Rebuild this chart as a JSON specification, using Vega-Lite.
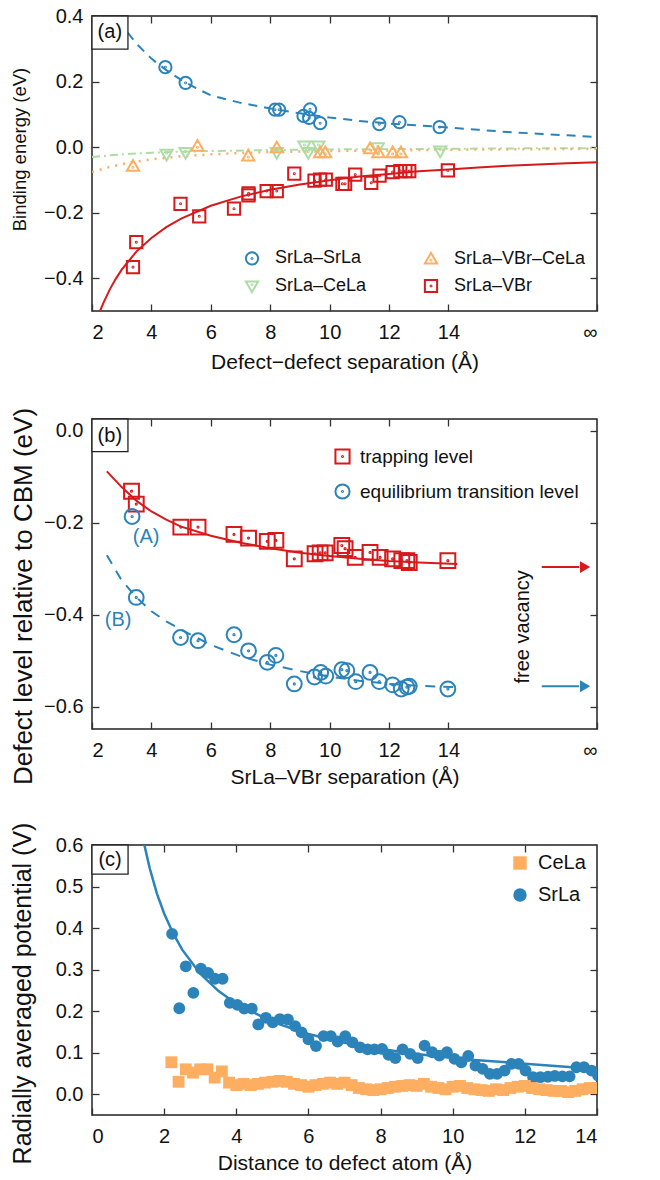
{
 "$schema": "https://vega.github.io/schema/vega-lite/v6.json",
 "padding": {"left": 9, "top": 5, "right": 5, "bottom": 5},
 "background": "white",
 "spacing": 33,
 "resolve": {"scale": {"color": "independent", "shape": "independent"}, "legend": {"color": "independent", "shape": "independent"}},
 "config": {
  "font": "Liberation Sans",
  "view": {"stroke": "#222", "strokeWidth": 1.5},
  "axis": {"domain": false, "grid": false, "tickSize": -7, "tickColor": "#333", "tickWidth": 1.3, "labelFontSize": 20, "labelColor": "#111", "titleFontSize": 20, "titleFontWeight": "normal", "titleColor": "#111", "labelPadding": 10, "titlePadding": 10},
  "axisLeft": {"labelPadding": 16},
  "axisBottom": {"labelPadding": 18, "titlePadding": 6},
  "legend": {"labelColor": "#111", "labelLimit": 400},
  "text": {"font": "Liberation Sans"}
 },
 "datasets": {
  "ptsA": [
   {"s": "SrLa–SrLa", "x": 4.47, "y": 0.244}, {"s": "SrLa–SrLa", "x": 5.15, "y": 0.196}, {"s": "SrLa–SrLa", "x": 8.16, "y": 0.114}, {"s": "SrLa–SrLa", "x": 8.3, "y": 0.114}, {"s": "SrLa–SrLa", "x": 9.12, "y": 0.095}, {"s": "SrLa–SrLa", "x": 9.34, "y": 0.115}, {"s": "SrLa–SrLa", "x": 9.31, "y": 0.089}, {"s": "SrLa–SrLa", "x": 9.68, "y": 0.073}, {"s": "SrLa–SrLa", "x": 11.67, "y": 0.07}, {"s": "SrLa–SrLa", "x": 12.35, "y": 0.076}, {"s": "SrLa–SrLa", "x": 13.7, "y": 0.061},
   {"s": "SrLa–CeLa", "x": 4.51, "y": -0.022}, {"s": "SrLa–CeLa", "x": 5.15, "y": -0.017}, {"s": "SrLa–CeLa", "x": 8.22, "y": -0.017}, {"s": "SrLa–CeLa", "x": 9.15, "y": 0.003}, {"s": "SrLa–CeLa", "x": 9.28, "y": -0.017}, {"s": "SrLa–CeLa", "x": 9.62, "y": 0.003}, {"s": "SrLa–CeLa", "x": 11.62, "y": -0.002}, {"s": "SrLa–CeLa", "x": 13.72, "y": -0.012},
   {"s": "SrLa–VBr–CeLa", "x": 3.38, "y": -0.058}, {"s": "SrLa–VBr–CeLa", "x": 5.55, "y": 0.003}, {"s": "SrLa–VBr–CeLa", "x": 7.26, "y": -0.027}, {"s": "SrLa–VBr–CeLa", "x": 8.22, "y": -0.002}, {"s": "SrLa–VBr–CeLa", "x": 9.68, "y": -0.017}, {"s": "SrLa–VBr–CeLa", "x": 9.85, "y": -0.017}, {"s": "SrLa–VBr–CeLa", "x": 11.36, "y": -0.005}, {"s": "SrLa–VBr–CeLa", "x": 11.64, "y": -0.017}, {"s": "SrLa–VBr–CeLa", "x": 12.12, "y": -0.017}, {"s": "SrLa–VBr–CeLa", "x": 12.4, "y": -0.017},
   {"s": "SrLa–VBr", "x": 3.38, "y": -0.366}, {"s": "SrLa–VBr", "x": 3.49, "y": -0.29}, {"s": "SrLa–VBr", "x": 4.98, "y": -0.173}, {"s": "SrLa–VBr", "x": 5.61, "y": -0.211}, {"s": "SrLa–VBr", "x": 6.78, "y": -0.188}, {"s": "SrLa–VBr", "x": 7.27, "y": -0.141}, {"s": "SrLa–VBr", "x": 7.27, "y": -0.147}, {"s": "SrLa–VBr", "x": 7.88, "y": -0.134}, {"s": "SrLa–VBr", "x": 8.22, "y": -0.134}, {"s": "SrLa–VBr", "x": 8.81, "y": -0.081}, {"s": "SrLa–VBr", "x": 9.49, "y": -0.102}, {"s": "SrLa–VBr", "x": 9.68, "y": -0.099}, {"s": "SrLa–VBr", "x": 9.87, "y": -0.099}, {"s": "SrLa–VBr", "x": 10.43, "y": -0.112}, {"s": "SrLa–VBr", "x": 10.52, "y": -0.112}, {"s": "SrLa–VBr", "x": 10.86, "y": -0.084}, {"s": "SrLa–VBr", "x": 11.4, "y": -0.109}, {"s": "SrLa–VBr", "x": 11.68, "y": -0.087}, {"s": "SrLa–VBr", "x": 12.12, "y": -0.076}, {"s": "SrLa–VBr", "x": 12.38, "y": -0.073}, {"s": "SrLa–VBr", "x": 12.55, "y": -0.073}, {"s": "SrLa–VBr", "x": 12.68, "y": -0.073}, {"s": "SrLa–VBr", "x": 13.98, "y": -0.071}
  ],
  "fitA": [
   {"s": "SrSr", "x": 2.9, "y": 0.39}, {"s": "SrSr", "x": 3.2, "y": 0.35}, {"s": "SrSr", "x": 3.5, "y": 0.315}, {"s": "SrSr", "x": 4, "y": 0.27}, {"s": "SrSr", "x": 4.5, "y": 0.235}, {"s": "SrSr", "x": 5, "y": 0.205}, {"s": "SrSr", "x": 5.5, "y": 0.18}, {"s": "SrSr", "x": 6, "y": 0.158}, {"s": "SrSr", "x": 7, "y": 0.135}, {"s": "SrSr", "x": 8, "y": 0.118}, {"s": "SrSr", "x": 9, "y": 0.103}, {"s": "SrSr", "x": 10, "y": 0.09}, {"s": "SrSr", "x": 11, "y": 0.08}, {"s": "SrSr", "x": 12, "y": 0.072}, {"s": "SrSr", "x": 13, "y": 0.066}, {"s": "SrSr", "x": 14, "y": 0.06}, {"s": "SrSr", "x": 15, "y": 0.053}, {"s": "SrSr", "x": 16, "y": 0.046}, {"s": "SrSr", "x": 17, "y": 0.041}, {"s": "SrSr", "x": 18, "y": 0.036}, {"s": "SrSr", "x": 19, "y": 0.031},
   {"s": "SrCe", "x": 2, "y": -0.03}, {"s": "SrCe", "x": 3, "y": -0.022}, {"s": "SrCe", "x": 4, "y": -0.017}, {"s": "SrCe", "x": 5, "y": -0.014}, {"s": "SrCe", "x": 6, "y": -0.012}, {"s": "SrCe", "x": 8, "y": -0.009}, {"s": "SrCe", "x": 10, "y": -0.007}, {"s": "SrCe", "x": 12, "y": -0.006}, {"s": "SrCe", "x": 14, "y": -0.005}, {"s": "SrCe", "x": 16, "y": -0.004}, {"s": "SrCe", "x": 19, "y": -0.003},
   {"s": "SrVCe", "x": 2, "y": -0.076}, {"s": "SrVCe", "x": 2.5, "y": -0.063}, {"s": "SrVCe", "x": 3, "y": -0.052}, {"s": "SrVCe", "x": 3.5, "y": -0.044}, {"s": "SrVCe", "x": 4, "y": -0.037}, {"s": "SrVCe", "x": 5, "y": -0.028}, {"s": "SrVCe", "x": 6, "y": -0.022}, {"s": "SrVCe", "x": 7, "y": -0.018}, {"s": "SrVCe", "x": 8, "y": -0.015}, {"s": "SrVCe", "x": 10, "y": -0.012}, {"s": "SrVCe", "x": 12, "y": -0.01}, {"s": "SrVCe", "x": 14, "y": -0.008}, {"s": "SrVCe", "x": 16, "y": -0.007}, {"s": "SrVCe", "x": 19, "y": -0.005},
   {"s": "SrV", "x": 2.27, "y": -0.5}, {"s": "SrV", "x": 2.4, "y": -0.472}, {"s": "SrV", "x": 2.6, "y": -0.434}, {"s": "SrV", "x": 2.8, "y": -0.402}, {"s": "SrV", "x": 3, "y": -0.374}, {"s": "SrV", "x": 3.5, "y": -0.318}, {"s": "SrV", "x": 4, "y": -0.277}, {"s": "SrV", "x": 4.5, "y": -0.244}, {"s": "SrV", "x": 5, "y": -0.218}, {"s": "SrV", "x": 6, "y": -0.179}, {"s": "SrV", "x": 7, "y": -0.151}, {"s": "SrV", "x": 8, "y": -0.13}, {"s": "SrV", "x": 9, "y": -0.114}, {"s": "SrV", "x": 10, "y": -0.101}, {"s": "SrV", "x": 11, "y": -0.09}, {"s": "SrV", "x": 12, "y": -0.082}, {"s": "SrV", "x": 13, "y": -0.074}, {"s": "SrV", "x": 14, "y": -0.068}, {"s": "SrV", "x": 15, "y": -0.062}, {"s": "SrV", "x": 16, "y": -0.057}, {"s": "SrV", "x": 17, "y": -0.053}, {"s": "SrV", "x": 18, "y": -0.049}, {"s": "SrV", "x": 19, "y": -0.046}
  ],
  "ptsB": [
   {"s": "trapping level", "x": 3.33, "y": -0.131}, {"s": "trapping level", "x": 3.49, "y": -0.159}, {"s": "trapping level", "x": 4.99, "y": -0.209}, {"s": "trapping level", "x": 5.57, "y": -0.209}, {"s": "trapping level", "x": 6.78, "y": -0.225}, {"s": "trapping level", "x": 7.27, "y": -0.233}, {"s": "trapping level", "x": 7.9, "y": -0.24}, {"s": "trapping level", "x": 8.19, "y": -0.238}, {"s": "trapping level", "x": 8.81, "y": -0.278}, {"s": "trapping level", "x": 9.51, "y": -0.267}, {"s": "trapping level", "x": 9.68, "y": -0.265}, {"s": "trapping level", "x": 9.85, "y": -0.265}, {"s": "trapping level", "x": 10.41, "y": -0.249}, {"s": "trapping level", "x": 10.52, "y": -0.256}, {"s": "trapping level", "x": 10.86, "y": -0.275}, {"s": "trapping level", "x": 11.36, "y": -0.264}, {"s": "trapping level", "x": 11.7, "y": -0.275}, {"s": "trapping level", "x": 12.12, "y": -0.278}, {"s": "trapping level", "x": 12.43, "y": -0.282}, {"s": "trapping level", "x": 12.6, "y": -0.282}, {"s": "trapping level", "x": 12.68, "y": -0.286}, {"s": "trapping level", "x": 13.98, "y": -0.282},
   {"s": "equilibrium transition level", "x": 3.35, "y": -0.186}, {"s": "equilibrium transition level", "x": 3.49, "y": -0.362}, {"s": "equilibrium transition level", "x": 4.98, "y": -0.449}, {"s": "equilibrium transition level", "x": 5.57, "y": -0.456}, {"s": "equilibrium transition level", "x": 6.78, "y": -0.443}, {"s": "equilibrium transition level", "x": 7.27, "y": -0.478}, {"s": "equilibrium transition level", "x": 7.9, "y": -0.503}, {"s": "equilibrium transition level", "x": 8.19, "y": -0.488}, {"s": "equilibrium transition level", "x": 8.81, "y": -0.55}, {"s": "equilibrium transition level", "x": 9.49, "y": -0.535}, {"s": "equilibrium transition level", "x": 9.7, "y": -0.525}, {"s": "equilibrium transition level", "x": 9.87, "y": -0.533}, {"s": "equilibrium transition level", "x": 10.41, "y": -0.519}, {"s": "equilibrium transition level", "x": 10.58, "y": -0.521}, {"s": "equilibrium transition level", "x": 10.88, "y": -0.545}, {"s": "equilibrium transition level", "x": 11.36, "y": -0.525}, {"s": "equilibrium transition level", "x": 11.67, "y": -0.545}, {"s": "equilibrium transition level", "x": 12.12, "y": -0.552}, {"s": "equilibrium transition level", "x": 12.41, "y": -0.561}, {"s": "equilibrium transition level", "x": 12.6, "y": -0.557}, {"s": "equilibrium transition level", "x": 12.68, "y": -0.555}, {"s": "equilibrium transition level", "x": 13.98, "y": -0.561}
  ],
  "fitB": [
   {"s": "trap", "x": 2.5, "y": -0.088}, {"s": "trap", "x": 3, "y": -0.122}, {"s": "trap", "x": 3.5, "y": -0.152}, {"s": "trap", "x": 4, "y": -0.175}, {"s": "trap", "x": 4.5, "y": -0.193}, {"s": "trap", "x": 5, "y": -0.208}, {"s": "trap", "x": 6, "y": -0.228}, {"s": "trap", "x": 7, "y": -0.243}, {"s": "trap", "x": 8, "y": -0.255}, {"s": "trap", "x": 9, "y": -0.265}, {"s": "trap", "x": 10, "y": -0.272}, {"s": "trap", "x": 11, "y": -0.278}, {"s": "trap", "x": 12, "y": -0.283}, {"s": "trap", "x": 13, "y": -0.286}, {"s": "trap", "x": 14.3, "y": -0.289},
   {"s": "eq", "x": 2.5, "y": -0.27}, {"s": "eq", "x": 3, "y": -0.325}, {"s": "eq", "x": 3.5, "y": -0.362}, {"s": "eq", "x": 4, "y": -0.392}, {"s": "eq", "x": 4.5, "y": -0.414}, {"s": "eq", "x": 5, "y": -0.432}, {"s": "eq", "x": 6, "y": -0.465}, {"s": "eq", "x": 7, "y": -0.49}, {"s": "eq", "x": 8, "y": -0.508}, {"s": "eq", "x": 9, "y": -0.522}, {"s": "eq", "x": 10, "y": -0.534}, {"s": "eq", "x": 11, "y": -0.543}, {"s": "eq", "x": 12, "y": -0.55}, {"s": "eq", "x": 13, "y": -0.554}, {"s": "eq", "x": 14.2, "y": -0.557}
  ],
  "ptsC": [
   {"s": "SrLa", "x": 2.22, "y": 0.386}, {"s": "SrLa", "x": 2.42, "y": 0.207}, {"s": "SrLa", "x": 2.6, "y": 0.308}, {"s": "SrLa", "x": 2.81, "y": 0.244}, {"s": "SrLa", "x": 3.02, "y": 0.302}, {"s": "SrLa", "x": 3.22, "y": 0.292}, {"s": "SrLa", "x": 3.41, "y": 0.278}, {"s": "SrLa", "x": 3.62, "y": 0.278}, {"s": "SrLa", "x": 3.82, "y": 0.22}, {"s": "SrLa", "x": 4.03, "y": 0.215}, {"s": "SrLa", "x": 4.22, "y": 0.206}, {"s": "SrLa", "x": 4.43, "y": 0.206}, {"s": "SrLa", "x": 4.61, "y": 0.168}, {"s": "SrLa", "x": 4.82, "y": 0.184}, {"s": "SrLa", "x": 5.01, "y": 0.173}, {"s": "SrLa", "x": 5.21, "y": 0.181}, {"s": "SrLa", "x": 5.43, "y": 0.18}, {"s": "SrLa", "x": 5.63, "y": 0.164}, {"s": "SrLa", "x": 5.81, "y": 0.149}, {"s": "SrLa", "x": 6.0, "y": 0.132}, {"s": "SrLa", "x": 6.21, "y": 0.116}, {"s": "SrLa", "x": 6.42, "y": 0.14}, {"s": "SrLa", "x": 6.62, "y": 0.14}, {"s": "SrLa", "x": 6.81, "y": 0.127}, {"s": "SrLa", "x": 7.02, "y": 0.14}, {"s": "SrLa", "x": 7.22, "y": 0.125}, {"s": "SrLa", "x": 7.43, "y": 0.113}, {"s": "SrLa", "x": 7.64, "y": 0.108}, {"s": "SrLa", "x": 7.83, "y": 0.108}, {"s": "SrLa", "x": 8.04, "y": 0.109}, {"s": "SrLa", "x": 8.22, "y": 0.095}, {"s": "SrLa", "x": 8.41, "y": 0.087}, {"s": "SrLa", "x": 8.61, "y": 0.108}, {"s": "SrLa", "x": 8.82, "y": 0.097}, {"s": "SrLa", "x": 9.03, "y": 0.087}, {"s": "SrLa", "x": 9.22, "y": 0.117}, {"s": "SrLa", "x": 9.43, "y": 0.101}, {"s": "SrLa", "x": 9.63, "y": 0.093}, {"s": "SrLa", "x": 9.84, "y": 0.101}, {"s": "SrLa", "x": 10.05, "y": 0.085}, {"s": "SrLa", "x": 10.24, "y": 0.077}, {"s": "SrLa", "x": 10.43, "y": 0.092}, {"s": "SrLa", "x": 10.63, "y": 0.069}, {"s": "SrLa", "x": 10.83, "y": 0.061}, {"s": "SrLa", "x": 11.03, "y": 0.049}, {"s": "SrLa", "x": 11.23, "y": 0.049}, {"s": "SrLa", "x": 11.44, "y": 0.057}, {"s": "SrLa", "x": 11.63, "y": 0.073}, {"s": "SrLa", "x": 11.83, "y": 0.073}, {"s": "SrLa", "x": 12.02, "y": 0.057}, {"s": "SrLa", "x": 12.23, "y": 0.041}, {"s": "SrLa", "x": 12.43, "y": 0.041}, {"s": "SrLa", "x": 12.64, "y": 0.042}, {"s": "SrLa", "x": 12.83, "y": 0.044}, {"s": "SrLa", "x": 13.04, "y": 0.043}, {"s": "SrLa", "x": 13.24, "y": 0.043}, {"s": "SrLa", "x": 13.43, "y": 0.065}, {"s": "SrLa", "x": 13.64, "y": 0.065}, {"s": "SrLa", "x": 13.85, "y": 0.057}, {"s": "SrLa", "x": 14.03, "y": 0.045},
   {"s": "CeLa", "x": 2.2, "y": 0.077}, {"s": "CeLa", "x": 2.4, "y": 0.03}, {"s": "CeLa", "x": 2.6, "y": 0.06}, {"s": "CeLa", "x": 2.8, "y": 0.052}, {"s": "CeLa", "x": 3.0, "y": 0.06}, {"s": "CeLa", "x": 3.2, "y": 0.06}, {"s": "CeLa", "x": 3.4, "y": 0.04}, {"s": "CeLa", "x": 3.6, "y": 0.055}, {"s": "CeLa", "x": 3.8, "y": 0.028}, {"s": "CeLa", "x": 4.0, "y": 0.022}, {"s": "CeLa", "x": 4.2, "y": 0.025}, {"s": "CeLa", "x": 4.4, "y": 0.022}, {"s": "CeLa", "x": 4.6, "y": 0.025}, {"s": "CeLa", "x": 4.8, "y": 0.028}, {"s": "CeLa", "x": 5.0, "y": 0.03}, {"s": "CeLa", "x": 5.2, "y": 0.032}, {"s": "CeLa", "x": 5.4, "y": 0.03}, {"s": "CeLa", "x": 5.6, "y": 0.025}, {"s": "CeLa", "x": 5.8, "y": 0.022}, {"s": "CeLa", "x": 6.0, "y": 0.018}, {"s": "CeLa", "x": 6.2, "y": 0.022}, {"s": "CeLa", "x": 6.4, "y": 0.025}, {"s": "CeLa", "x": 6.6, "y": 0.028}, {"s": "CeLa", "x": 6.8, "y": 0.025}, {"s": "CeLa", "x": 7.0, "y": 0.028}, {"s": "CeLa", "x": 7.2, "y": 0.022}, {"s": "CeLa", "x": 7.4, "y": 0.015}, {"s": "CeLa", "x": 7.6, "y": 0.012}, {"s": "CeLa", "x": 7.8, "y": 0.01}, {"s": "CeLa", "x": 8.0, "y": 0.012}, {"s": "CeLa", "x": 8.2, "y": 0.015}, {"s": "CeLa", "x": 8.4, "y": 0.018}, {"s": "CeLa", "x": 8.6, "y": 0.02}, {"s": "CeLa", "x": 8.8, "y": 0.022}, {"s": "CeLa", "x": 9.0, "y": 0.02}, {"s": "CeLa", "x": 9.2, "y": 0.025}, {"s": "CeLa", "x": 9.4, "y": 0.018}, {"s": "CeLa", "x": 9.6, "y": 0.015}, {"s": "CeLa", "x": 9.8, "y": 0.012}, {"s": "CeLa", "x": 10.0, "y": 0.018}, {"s": "CeLa", "x": 10.2, "y": 0.02}, {"s": "CeLa", "x": 10.4, "y": 0.015}, {"s": "CeLa", "x": 10.6, "y": 0.012}, {"s": "CeLa", "x": 10.8, "y": 0.01}, {"s": "CeLa", "x": 11.0, "y": 0.008}, {"s": "CeLa", "x": 11.2, "y": 0.012}, {"s": "CeLa", "x": 11.4, "y": 0.01}, {"s": "CeLa", "x": 11.6, "y": 0.015}, {"s": "CeLa", "x": 11.8, "y": 0.018}, {"s": "CeLa", "x": 12.0, "y": 0.02}, {"s": "CeLa", "x": 12.2, "y": 0.015}, {"s": "CeLa", "x": 12.4, "y": 0.012}, {"s": "CeLa", "x": 12.6, "y": 0.01}, {"s": "CeLa", "x": 12.8, "y": 0.008}, {"s": "CeLa", "x": 13.0, "y": 0.008}, {"s": "CeLa", "x": 13.2, "y": 0.005}, {"s": "CeLa", "x": 13.4, "y": 0.008}, {"s": "CeLa", "x": 13.6, "y": 0.012}, {"s": "CeLa", "x": 13.8, "y": 0.015}, {"s": "CeLa", "x": 14.0, "y": 0.015}
  ],
  "fitC": [
   {"x": 1.4, "y": 0.62}, {"x": 1.6, "y": 0.544}, {"x": 1.8, "y": 0.483}, {"x": 2, "y": 0.435}, {"x": 2.25, "y": 0.387}, {"x": 2.5, "y": 0.348}, {"x": 3, "y": 0.29}, {"x": 3.5, "y": 0.249}, {"x": 4, "y": 0.218}, {"x": 5, "y": 0.174}, {"x": 6, "y": 0.145}, {"x": 7, "y": 0.124}, {"x": 8, "y": 0.109}, {"x": 9, "y": 0.097}, {"x": 10, "y": 0.087}, {"x": 10.5, "y": 0.083}, {"x": 13.5, "y": 0.064}, {"x": 14, "y": 0.062}
  ],
  "one": [{}]
 },
 "vconcat": [
  {
   "width": 505, "height": 295,
   "resolve": {"axis": {"x": "independent", "y": "independent"}},
   "layer": [
    {
     "data": {"name": "fitA"},
     "transform": [{"filter": "datum.s == 'SrSr'"}],
     "mark": {"type": "line", "color": "#2b83ba", "strokeWidth": 2, "strokeDash": [9, 7], "clip": true},
     "encoding": {
      "x": {"field": "x", "type": "quantitative", "scale": {"domain": [2, 19], "nice": false, "zero": false},
            "axis": {"orient": "bottom", "values": [2, 4, 6, 8, 10, 12, 14, 19], "labelExpr": "datum.value == 19 ? '∞' : datum.label", "title": "Defect−defect separation (Å)", "titleFontSize": 21, "titlePadding": 9}},
      "y": {"field": "y", "type": "quantitative", "scale": {"domain": [-0.5, 0.4], "nice": false, "zero": false},
            "axis": {"orient": "left", "values": [-0.4, -0.2, 0, 0.2, 0.4], "format": ".1f", "title": "Binding energy (eV)", "titleFontSize": 18.5, "titleX": -82, "titleY": 133, "titleBaseline": "top"}}
     }
    },
    {
     "data": {"name": "fitA"},
     "transform": [{"filter": "datum.s == 'SrCe'"}],
     "mark": {"type": "line", "color": "#abdda4", "strokeWidth": 2, "strokeDash": [8, 4, 2, 4], "clip": true},
     "encoding": {"x": {"field": "x", "type": "quantitative", "axis": null}, "y": {"field": "y", "type": "quantitative", "axis": null}}
    },
    {
     "data": {"name": "fitA"},
     "transform": [{"filter": "datum.s == 'SrVCe'"}],
     "mark": {"type": "line", "color": "#fdae61", "strokeWidth": 2.5, "strokeDash": [2, 6], "clip": true},
     "encoding": {"x": {"field": "x", "type": "quantitative", "axis": null}, "y": {"field": "y", "type": "quantitative", "axis": null}}
    },
    {
     "data": {"name": "fitA"},
     "transform": [{"filter": "datum.s == 'SrV'"}],
     "mark": {"type": "line", "color": "#d7191c", "strokeWidth": 2, "clip": true},
     "encoding": {"x": {"field": "x", "type": "quantitative", "axis": null}, "y": {"field": "y", "type": "quantitative", "axis": null}}
    },
    {
     "data": {"name": "ptsA"},
     "mark": {"type": "point", "filled": false, "strokeWidth": 2, "size": 150, "opacity": 1},
     "encoding": {
      "x": {"field": "x", "type": "quantitative", "axis": {"orient": "top", "values": [2, 4, 6, 8, 10, 12, 14], "labels": false, "title": null}},
      "y": {"field": "y", "type": "quantitative", "axis": {"orient": "right", "values": [-0.4, -0.2, 0, 0.2, 0.4], "labels": false, "title": null}},
      "color": {"field": "s", "type": "nominal",
                "scale": {"domain": ["SrLa–SrLa", "SrLa–CeLa", "SrLa–VBr–CeLa", "SrLa–VBr"], "range": ["#2b83ba", "#abdda4", "#fdae61", "#d7191c"]},
                "legend": {"title": null, "orient": "none", "legendX": 151, "legendY": 233, "columns": 2, "labelFontSize": 18, "symbolSize": 150, "symbolStrokeWidth": 2, "rowPadding": 6, "columnPadding": 53, "labelOffset": 14}},
      "shape": {"field": "s", "type": "nominal",
                "scale": {"domain": ["SrLa–SrLa", "SrLa–CeLa", "SrLa–VBr–CeLa", "SrLa–VBr"],
                          "range": ["M1,0A1,1,0,1,1,-1,0A1,1,0,1,1,1,0Z M0.08,0A0.08,0.08,0,1,1,-0.08,0A0.08,0.08,0,1,1,0.08,0Z", "M0,1L1,-0.75L-1,-0.75Z M0.08,-0.2A0.08,0.08,0,1,1,-0.08,-0.2A0.08,0.08,0,1,1,0.08,-0.2Z", "M0,-1L1,0.75L-1,0.75Z M0.08,0.2A0.08,0.08,0,1,1,-0.08,0.2A0.08,0.08,0,1,1,0.08,0.2Z", "M-1,-1H1V1H-1Z M0.08,0A0.08,0.08,0,1,1,-0.08,0A0.08,0.08,0,1,1,0.08,0Z"]},
                "legend": {"title": null, "orient": "none", "legendX": 151, "legendY": 233, "columns": 2, "labelFontSize": 18, "symbolSize": 150, "symbolStrokeWidth": 2, "rowPadding": 6, "columnPadding": 53, "labelOffset": 14}}
     }
    },
    {
     "data": {"name": "one"},
     "mark": {"type": "rect", "fill": "white", "stroke": "#222", "strokeWidth": 1.3},
     "encoding": {"x": {"datum": 2, "type": "quantitative", "axis": null}, "x2": {"datum": 3.21}, "y": {"datum": 0.4, "type": "quantitative", "axis": null}, "y2": {"datum": 0.299}}
    },
    {
     "data": {"name": "one"},
     "mark": {"type": "text", "fontSize": 20, "color": "#111"},
     "encoding": {"x": {"datum": 2.6, "type": "quantitative", "axis": null}, "y": {"datum": 0.35, "type": "quantitative", "axis": null}, "text": {"value": "(a)"}}
    }
   ]
  },
  {
   "width": 505, "height": 310,
   "resolve": {"axis": {"x": "independent", "y": "independent"}},
   "layer": [
    {
     "data": {"name": "fitB"},
     "transform": [{"filter": "datum.s == 'trap'"}],
     "mark": {"type": "line", "color": "#d7191c", "strokeWidth": 2, "clip": true},
     "encoding": {
      "x": {"field": "x", "type": "quantitative", "scale": {"domain": [2, 19], "nice": false, "zero": false},
            "axis": {"orient": "bottom", "values": [2, 4, 6, 8, 10, 12, 14, 19], "labelExpr": "datum.value == 19 ? '∞' : datum.label", "title": "SrLa–VBr separation (Å)", "titleFontSize": 21}},
      "y": {"field": "y", "type": "quantitative", "scale": {"domain": [-0.648, 0.026], "nice": false, "zero": false},
            "axis": {"orient": "left", "values": [-0.6, -0.4, -0.2, 0], "format": ".1f", "title": "Defect level relative to CBM (eV)", "titleFontSize": 26, "titleX": -82, "titleY": 177, "titleBaseline": "top"}}
     }
    },
    {
     "data": {"name": "fitB"},
     "transform": [{"filter": "datum.s == 'eq'"}],
     "mark": {"type": "line", "color": "#2b83ba", "strokeWidth": 2, "strokeDash": [10, 8], "clip": true},
     "encoding": {"x": {"field": "x", "type": "quantitative", "axis": null}, "y": {"field": "y", "type": "quantitative", "axis": null}}
    },
    {
     "data": {"name": "ptsB"},
     "mark": {"type": "point", "filled": false, "strokeWidth": 2, "size": 220, "opacity": 1},
     "encoding": {
      "x": {"field": "x", "type": "quantitative", "axis": {"orient": "top", "values": [2, 4, 6, 8, 10, 12, 14], "labels": false, "title": null}},
      "y": {"field": "y", "type": "quantitative", "axis": {"orient": "right", "values": [-0.6, -0.4, -0.2, 0], "labels": false, "title": null}},
      "color": {"field": "s", "type": "nominal",
                "scale": {"domain": ["trapping level", "equilibrium transition level"], "range": ["#d7191c", "#2b83ba"]},
                "legend": {"title": null, "orient": "none", "legendX": 241, "legendY": 28, "labelFontSize": 19, "symbolSize": 200, "symbolStrokeWidth": 2, "rowPadding": 12, "labelOffset": 8}},
      "shape": {"field": "s", "type": "nominal",
                "scale": {"domain": ["trapping level", "equilibrium transition level"],
                          "range": ["M-1,-1H1V1H-1Z M0.08,0A0.08,0.08,0,1,1,-0.08,0A0.08,0.08,0,1,1,0.08,0Z", "M1,0A1,1,0,1,1,-1,0A1,1,0,1,1,1,0Z M0.08,0A0.08,0.08,0,1,1,-0.08,0A0.08,0.08,0,1,1,0.08,0Z"]},
                "legend": {"title": null, "orient": "none", "legendX": 241, "legendY": 28, "labelFontSize": 19, "symbolSize": 200, "symbolStrokeWidth": 2, "rowPadding": 12, "labelOffset": 8}}
     }
    },
    {
     "data": {"name": "one"},
     "mark": {"type": "rule", "color": "#d7191c", "strokeWidth": 2},
     "encoding": {"x": {"datum": 17.14, "type": "quantitative", "axis": null}, "x2": {"datum": 18.4}, "y": {"datum": -0.296, "type": "quantitative", "axis": null}}
    },
    {
     "data": {"name": "one"},
     "mark": {"type": "point", "shape": "triangle-right", "filled": true, "color": "#d7191c", "size": 140, "opacity": 1},
     "encoding": {"x": {"datum": 18.6, "type": "quantitative", "axis": null}, "y": {"datum": -0.296, "type": "quantitative", "axis": null}}
    },
    {
     "data": {"name": "one"},
     "mark": {"type": "rule", "color": "#2b83ba", "strokeWidth": 2},
     "encoding": {"x": {"datum": 17.14, "type": "quantitative", "axis": null}, "x2": {"datum": 18.4}, "y": {"datum": -0.555, "type": "quantitative", "axis": null}}
    },
    {
     "data": {"name": "one"},
     "mark": {"type": "point", "shape": "triangle-right", "filled": true, "color": "#2b83ba", "size": 140, "opacity": 1},
     "encoding": {"x": {"datum": 18.6, "type": "quantitative", "axis": null}, "y": {"datum": -0.555, "type": "quantitative", "axis": null}}
    },
    {
     "data": {"name": "one"},
     "mark": {"type": "text", "fontSize": 20, "color": "#111", "angle": 270},
     "encoding": {"x": {"datum": 16.5, "type": "quantitative", "axis": null}, "y": {"datum": -0.426, "type": "quantitative", "axis": null}, "text": {"value": "free vacancy"}}
    },
    {
     "data": {"name": "one"},
     "mark": {"type": "text", "fontSize": 20, "color": "#2b83ba"},
     "encoding": {"x": {"datum": 3.82, "type": "quantitative", "axis": null}, "y": {"datum": -0.23, "type": "quantitative", "axis": null}, "text": {"value": "(A)"}}
    },
    {
     "data": {"name": "one"},
     "mark": {"type": "text", "fontSize": 20, "color": "#2b83ba"},
     "encoding": {"x": {"datum": 2.88, "type": "quantitative", "axis": null}, "y": {"datum": -0.412, "type": "quantitative", "axis": null}, "text": {"value": "(B)"}}
    },
    {
     "data": {"name": "one"},
     "mark": {"type": "rect", "fill": "white", "stroke": "#222", "strokeWidth": 1.3},
     "encoding": {"x": {"datum": 2, "type": "quantitative", "axis": null}, "x2": {"datum": 3.21}, "y": {"datum": 0.026, "type": "quantitative", "axis": null}, "y2": {"datum": -0.045}}
    },
    {
     "data": {"name": "one"},
     "mark": {"type": "text", "fontSize": 20, "color": "#111"},
     "encoding": {"x": {"datum": 2.6, "type": "quantitative", "axis": null}, "y": {"datum": -0.01, "type": "quantitative", "axis": null}, "text": {"value": "(b)"}}
    }
   ]
  },
  {
   "width": 505, "height": 270,
   "resolve": {"axis": {"x": "independent", "y": "independent"}},
   "layer": [
    {
     "data": {"name": "fitC"},
     "mark": {"type": "line", "color": "#2b83ba", "strokeWidth": 2.5, "clip": true},
     "encoding": {
      "x": {"field": "x", "type": "quantitative", "scale": {"domain": [0, 14], "nice": false, "zero": false},
            "axis": {"orient": "bottom", "values": [0, 2, 4, 6, 8, 10, 12, 14], "title": "Distance to defect atom (Å)", "titleFontSize": 21}},
      "y": {"field": "y", "type": "quantitative", "scale": {"domain": [-0.05, 0.6], "nice": false, "zero": false},
            "axis": {"orient": "left", "values": [0, 0.1, 0.2, 0.3, 0.4, 0.5, 0.6], "format": ".1f", "title": "Radially averaged potential (V)", "titleFontSize": 25, "titleX": -82, "titleY": 148, "titleBaseline": "top"}}
     }
    },
    {
     "data": {"name": "ptsC"},
     "mark": {"type": "point", "filled": true, "size": 140, "opacity": 1, "clip": true},
     "encoding": {
      "x": {"field": "x", "type": "quantitative", "axis": {"orient": "top", "values": [2, 4, 6, 8, 10, 12], "labels": false, "title": null}},
      "y": {"field": "y", "type": "quantitative", "axis": {"orient": "right", "values": [0, 0.1, 0.2, 0.3, 0.4, 0.5], "labels": false, "title": null}},
      "color": {"field": "s", "type": "nominal", "scale": {"domain": ["CeLa", "SrLa"], "range": ["#fdae61", "#2b83ba"]},
                "legend": {"title": null, "orient": "none", "legendX": 418, "legendY": 8, "labelFontSize": 20, "symbolSize": 180, "rowPadding": 12, "labelOffset": 8}},
      "shape": {"field": "s", "type": "nominal", "scale": {"domain": ["CeLa", "SrLa"], "range": ["square", "circle"]},
                "legend": {"title": null, "orient": "none", "legendX": 418, "legendY": 8, "labelFontSize": 20, "symbolSize": 180, "rowPadding": 12, "labelOffset": 8}}
     }
    },
    {
     "data": {"name": "one"},
     "mark": {"type": "rect", "fill": "white", "stroke": "#222", "strokeWidth": 1.3},
     "encoding": {"x": {"datum": 0, "type": "quantitative", "axis": null}, "x2": {"datum": 1.0}, "y": {"datum": 0.6, "type": "quantitative", "axis": null}, "y2": {"datum": 0.53}}
    },
    {
     "data": {"name": "one"},
     "mark": {"type": "text", "fontSize": 20, "color": "#111"},
     "encoding": {"x": {"datum": 0.5, "type": "quantitative", "axis": null}, "y": {"datum": 0.565, "type": "quantitative", "axis": null}, "text": {"value": "(c)"}}
    }
   ]
  }
 ]
}
